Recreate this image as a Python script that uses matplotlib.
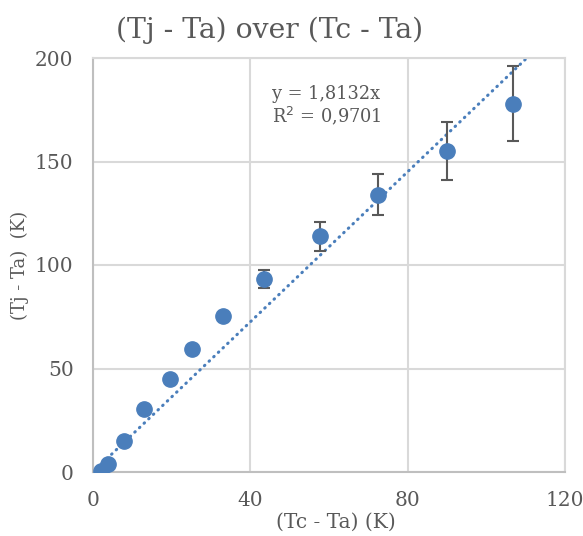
import numpy as np
import matplotlib
matplotlib.use('Agg')
import matplotlib.pyplot as plt

# data
dT_case = [2.0, 3.8, 7.9, 13.0, 19.6, 25.2, 33.1, 43.5, 57.8, 72.5, 90.1, 106.9]
dT_junc = [0.5, 3.9, 15.0, 30.4, 45.0, 59.4, 75.4, 93.2, 114.0, 134.0, 155.0, 178.0]
err = [0, 0, 0, 0, 0, 0, 0, 4.5, 7.0, 10.0, 14.0, 18.0]
slope = 1.8132
r2 = 0.9701

plt.rcParams['font.family'] = ['DejaVu Serif']
grey = '#595959'
blue = '#4A7EBB'

fig = plt.figure(figsize=(5.83, 5.36), dpi=100)
ax = fig.add_axes([93 / 583, 64 / 536, 472 / 583, 414 / 536])

# trendline, forced through zero
xt = np.linspace(0, 120, 200)
ax.plot(xt, slope * xt, linestyle=(0, (0.2, 1.9)), color=blue, lw=2.2,
        dash_capstyle='round', zorder=2)

x = np.array(dT_case)
y = np.array(dT_junc)
e = np.array(err)
m = e > 0
ax.errorbar(x[m], y[m], yerr=e[m], fmt='none', ecolor=grey, elinewidth=1.5,
            capsize=4.5, capthick=1.5, zorder=3)
ax.plot(x, y, 'o', color=blue, ms=11, mec=blue, zorder=4)

ax.set_xlim(0, 120)
ax.set_ylim(0, 200)
ax.set_xticks([0, 40, 80, 120])
ax.set_yticks([0, 50, 100, 150, 200])
ax.grid(True, color='#D9D9D9', lw=1.5)
ax.set_axisbelow(True)
for s in ax.spines.values():
    s.set_color('#D9D9D9')
    s.set_linewidth(1.5)
ax.spines['left'].set_color('#BFBFBF')
ax.spines['bottom'].set_color('#BFBFBF')
ax.tick_params(length=0, labelsize=14.5, colors=grey, pad=14)

ax.text(0.38, 0.884, 'y = 1,8132x\nR$^2$ = 0,%04d' % round(r2 * 10000),
        transform=ax.transAxes, fontsize=12.8, color=grey, va='center',
        linespacing=1.1)

fig.text(270 / 583, 1 - 30 / 536, '(Tj - Ta) over (Tc - Ta)', ha='center',
         va='center', fontsize=20.3, color=grey)
fig.text(336 / 583, 1 - 522 / 536, '(Tc - Ta) (K)', ha='center', va='center',
         fontsize=14.5, color=grey)
fig.text(20 / 583, 1 - 265 / 536, '(Tj - Ta)  (K)', ha='center', va='center',
         rotation=90, fontsize=13, color=grey)

fig.savefig('out.png', dpi=100)
